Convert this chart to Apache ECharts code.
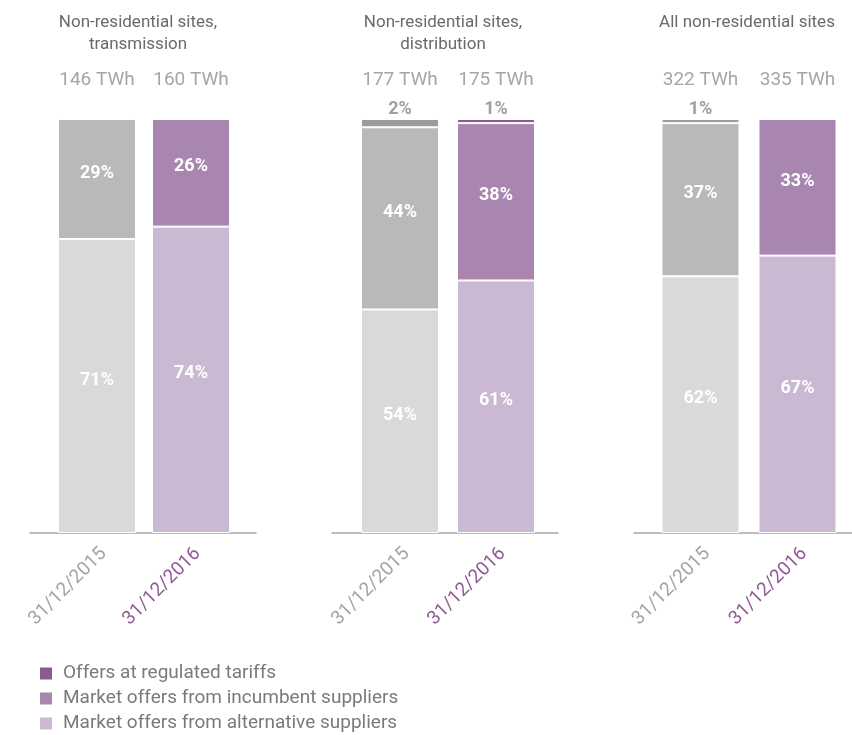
<!DOCTYPE html>
<html><head><meta charset="utf-8">
<script src="https://cdn.jsdelivr.net/npm/echarts@6/dist/echarts.min.js"></script>
<style>html,body{margin:0;padding:0;background:#fff}#c{width:852px;height:735px}</style>
</head><body><div id="c"></div>
<script>
const categories = ['31/12/2015', '31/12/2016'];
const panelTitles = ['Non-residential sites,\ntransmission', 'Non-residential sites,\ndistribution', 'All non-residential sites'];
const totalsTWh = [[146, 160], [177, 175], [322, 335]];
const regulated = [[0, 0], [2, 1], [1, 0]];
const incumbent = [[29, 26], [44, 38], [37, 33]];
const alternative = [[71, 74], [54, 61], [62, 67]];
const seriesNames = ['Offers at regulated tariffs', 'Market offers from incumbent suppliers', 'Market offers from alternative suppliers'];

const purple = ['#8c5a90', '#a986b0', '#cbb8d3'];
const gray = ['#9c9c9c', '#b9b9b9', '#d9d9d9'];
const barGrids = [{left: 50, width: 188}, {left: 352, width: 192}, {left: 652, width: 194}];
const baseGrids = [{left: 30, width: 226}, {left: 332, width: 226}, {left: 634, width: 240}];
const titleCenters = [138, 443, 747];
const FONT = 'Roboto, "Noto Sans", sans-serif';

const chart = echarts.init(document.getElementById('c'));
const grids = [], xAxes = [], yAxes = [], series = [], titles = [];
const valueSets = [regulated, incumbent, alternative];

for (let p = 0; p < 3; p++) {
  grids.push({left: barGrids[p].left, width: barGrids[p].width, top: 119, height: 414});
  titles.push({text: panelTitles[p], left: titleCenters[p], top: 12, padding: 0, textAlign: 'center',
    textStyle: {fontFamily: FONT, fontSize: 17, fontWeight: 'normal', color: '#6a6a6a', lineHeight: 22}});
  xAxes.push({type: 'category', gridIndex: p, data: categories, position: 'bottom',
    axisLine: {show: false}, axisTick: {show: false},
    axisLabel: {rotate: 45, margin: 11, interval: 0, verticalAlign: 'top', fontFamily: FONT, fontSize: 19,
      formatter: (v, i) => i === 0 ? '{a|' + v + '}' : '{b|' + v + '}',
      rich: {a: {color: '#a3a3a3', fontFamily: FONT, fontSize: 19}, b: {color: '#8f5a94', fontFamily: FONT, fontSize: 19}}}
  });
  xAxes.push({type: 'category', gridIndex: p, data: totalsTWh[p].map(t => t + ' TWh'), position: 'top',
    axisLine: {show: false}, axisTick: {show: false},
    axisLabel: {margin: 29, interval: 0, fontFamily: FONT, fontSize: 19, color: '#a6a6a6'}
  });
  yAxes.push({type: 'value', gridIndex: p, min: 0, max: 100, show: false});
  for (const s of [2, 1, 0]) {
    const vals = valueSets[s][p];
    series.push({
      name: seriesNames[s], type: 'bar', stack: 'p' + p, xAxisIndex: p * 2, yAxisIndex: p,
      barWidth: 78,
      itemStyle: {color: purple[s], borderColor: '#ffffff', borderWidth: 1},
      label: s === 0 ? {show: true, position: 'top', distance: 1, color: '#a0a0a0', fontFamily: FONT, fontSize: 18, fontWeight: 'bold',
          formatter: prm => prm.value > 0 ? prm.value + '%' : ''}
        : {show: true, position: 'inside', offset: [0, -6], color: '#ffffff', fontFamily: FONT, fontSize: 18, fontWeight: 'bold',
          formatter: prm => prm.value + '%'},
      data: vals.map((v, i) => ({value: v, itemStyle: {color: i === 0 ? gray[s] : purple[s]}}))
    });
  }
}
// baseline grids (axis line only)
for (let p = 0; p < 3; p++) {
  grids.push({left: baseGrids[p].left, width: baseGrids[p].width, top: 119, height: 414});
  xAxes.push({type: 'value', gridIndex: 3 + p, min: 0, max: 1, position: 'bottom',
    splitLine: {show: false}, axisTick: {show: false}, axisLabel: {show: false},
    axisLine: {show: true, onZero: false, lineStyle: {color: '#a6a6a6', width: 1.5}}});
  yAxes.push({type: 'value', gridIndex: 3 + p, min: 0, max: 1, show: false});
}

chart.setOption({
  animation: false,
  backgroundColor: '#ffffff',
  title: titles,
  grid: grids,
  xAxis: xAxes,
  yAxis: yAxes,
  legend: {orient: 'vertical', left: 38, top: 664, height: 100, padding: 0, itemWidth: 14, itemHeight: 14, itemGap: 6, icon: 'rect',
    data: seriesNames,
    textStyle: {fontFamily: FONT, fontSize: 19, color: '#7a7a7a', lineHeight: 19, padding: [0, 0, 0, 5]}},
  series: series
});
</script></body></html>
